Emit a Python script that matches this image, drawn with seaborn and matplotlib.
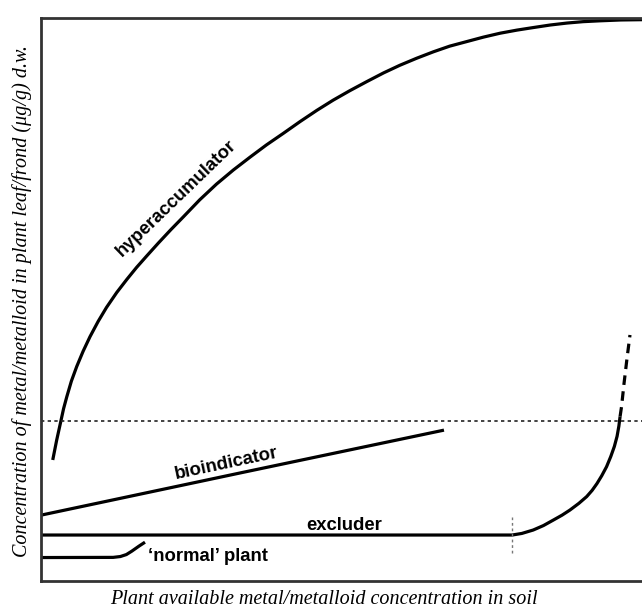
import pandas as pd
import matplotlib.pyplot as plt
import seaborn as sns

# curves (x, y in 0-100 units)
hyper_x = [1.95, 2.6, 3.28, 3.75, 4.28, 5.05, 5.94, 7.0, 8.15, 9.5, 10.9, 12.6,
           14.3, 15.9, 17.6, 19.5, 21.6, 23.7, 26.4, 29.2, 32.0, 34.8, 37.5,
           40.3, 43.1, 45.9, 48.6, 51.4, 54.2, 57.0, 59.7, 62.5, 65.3, 68.0,
           70.8, 73.6, 76.4, 79.2, 81.9, 84.7, 87.5, 90.2, 93.0, 96.5, 100]
hyper_y = [21.5, 25.0, 28.3, 30.6, 32.7, 35.5, 38.1, 40.8, 43.4, 46.1, 48.6, 51.25,
           53.6, 55.7, 57.75, 60.0, 62.4, 64.7, 67.7, 70.5, 73.0, 75.3, 77.45,
           79.5, 81.6, 83.6, 85.4, 87.1, 88.7, 90.25, 91.6, 92.85, 94.0, 95.0,
           95.8, 96.6, 97.3, 97.85, 98.3, 98.75, 99.1, 99.35, 99.5, 99.65, 99.7]

bio_x = [0, 33.6, 67.05]
bio_y = [11.7, 19.3, 26.8]

excl_x = [0, 78.4, 80.0, 81.9, 83.6, 85.2, 86.7, 88.0, 89.5, 90.8, 91.7, 92.5,
          93.3, 94.1, 94.8, 95.4, 95.85, 96.15, 96.35]
excl_y = [8.17, 8.17, 8.45, 9.06, 9.85, 10.8, 11.7, 12.6, 13.8, 15.0, 16.1, 17.3,
          18.7, 20.3, 22.1, 23.9, 25.7, 27.5, 29.2]
excl_dash_x = [96.35, 96.6, 97.0, 97.5, 98.0]
excl_dash_y = [29.2, 31.0, 35.0, 39.5, 43.7]

normal_x = [0, 12.0, 13.2, 14.2, 15.1, 16.3, 17.3]
normal_y = [4.17, 4.2, 4.35, 4.7, 5.3, 6.2, 6.9]

threshold = 28.4
excl_onset = 78.4

sns.set_style('white')
plt.rcParams['font.family'] = ['Liberation Sans', 'DejaVu Sans']
plt.rcParams['text.color'] = 'black'

fig = plt.figure(figsize=(6.42, 6.10), dpi=100)
ax = fig.add_axes([0.0639, 0.0475, 0.9361, 0.923])

lw = 2.3
kw = dict(color='black', lw=lw, estimator=None, ax=ax,
          solid_joinstyle='round', solid_capstyle='butt')
sns.lineplot(x=hyper_x, y=hyper_y, **kw)
sns.lineplot(x=bio_x, y=bio_y, **kw)
sns.lineplot(x=excl_x, y=excl_y, **kw)
sns.lineplot(x=normal_x, y=normal_y, **kw)
sns.lineplot(x=excl_dash_x, y=excl_dash_y, color='black', lw=lw, estimator=None,
             linestyle=(0, (3, 2)), ax=ax)

# threshold and onset markers
ax.axhline(threshold, color='#222222', lw=1.2, linestyle=(0, (2, 2)))
ax.plot([excl_onset, excl_onset], [5.0, 11.4], color='#777777', lw=1.0,
        linestyle=(0, (2, 2)))

# curve labels
lab = dict(fontsize=13.3, fontweight='bold', color='black')
ax.text(22.6, 68.0, 'hyperaccumulator', rotation=44, ha='center', va='center',
        rotation_mode='anchor', **lab)
ax.text(30.9, 20.9, 'bioindicator', rotation=12, ha='center', va='center',
        rotation_mode='anchor', **lab)
ax.text(50.4, 9.9, 'excluder', ha='center', va='center', **lab)
ax.text(17.8, 4.3, '\u2018normal\u2019 plant', ha='left', va='center', **lab)

ax.set_xlim(0, 100)
ax.set_ylim(0, 100)
ax.set_xticks([])
ax.set_yticks([])
ax.set_xlabel('')
ax.set_ylabel('')
for side in ['left', 'top', 'bottom']:
    ax.spines[side].set_color('#333333')
    ax.spines[side].set_linewidth(2)
ax.spines['right'].set_visible(False)

serif = ['Liberation Serif', 'DejaVu Serif']
fig.text(324 / 642, 1 - 600 / 610,
         'Plant available metal/metalloid concentration in soil',
         ha='center', va='center', fontsize=14.5, style='italic', family=serif)
fig.text(22 / 642, 1 - 301 / 610,
         'Concentration of metal/metalloid in plant leaf/frond (\u03bcg/g) d.w.',
         ha='center', va='center', rotation=90, fontsize=14.5, style='italic',
         family=serif)

fig.savefig('out.png', dpi=100)
